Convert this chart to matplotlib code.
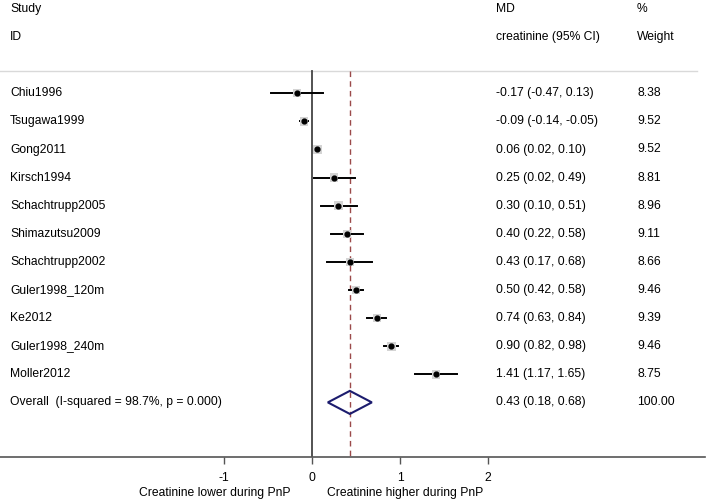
import matplotlib
matplotlib.use("Agg")
import matplotlib.pyplot as plt
from matplotlib.patches import Polygon
import matplotlib.transforms as mtransforms

plt.rcParams['font.family'] = ['Liberation Sans', 'DejaVu Sans']

# study data
studies = ['Chiu1996', 'Tsugawa1999', 'Gong2011', 'Kirsch1994', 'Schachtrupp2005',
           'Shimazutsu2009', 'Schachtrupp2002', 'Guler1998_120m', 'Ke2012',
           'Guler1998_240m', 'Moller2012']
md = [-0.17, -0.09, 0.06, 0.25, 0.30, 0.40, 0.43, 0.50, 0.74, 0.90, 1.41]
lower = [-0.47, -0.14, 0.02, 0.02, 0.10, 0.22, 0.17, 0.42, 0.63, 0.82, 1.17]
upper = [0.13, -0.05, 0.10, 0.49, 0.51, 0.58, 0.68, 0.58, 0.84, 0.98, 1.65]
weights = [8.38, 9.52, 9.52, 8.81, 8.96, 9.11, 8.66, 9.46, 9.39, 9.46, 8.75]

overall_md = 0.43
overall_lo = 0.18
overall_hi = 0.68
overall_label = 'Overall  (I-squared = 98.7%, p = 0.000)'

xticks = [-1, 0, 1, 2]

fig = plt.figure(figsize=(7.10, 5.01), dpi=100)
ax = fig.add_axes([0, 44 / 501, 705 / 710, 457 / 501])

row_h = 28.1
ax.set_xlim(-312 / 88, (705 - 312) / 88)
ax.set_ylim((457 - 9) / row_h, -9 / row_h)

for s in ['top', 'left', 'right']:
    ax.spines[s].set_visible(False)
ax.spines['bottom'].set_color('#555555')
ax.spines['bottom'].set_linewidth(1.2)
ax.set_yticks([])
ax.set_xticks(xticks)
ax.set_xticklabels([str(t) for t in xticks])
ax.tick_params(axis='x', direction='out', length=5, width=1.0, color='#555555',
               labelsize=8.7, pad=6)

trans = mtransforms.blended_transform_factory(fig.transFigure, ax.transData)
fs = 8.7
x_study = 10 / 710
x_md = 496 / 710
x_wt = 637 / 710

# headers
ax.text(x_study, 0, 'Study', transform=trans, fontsize=fs, va='center')
ax.text(x_study, 1, 'ID', transform=trans, fontsize=fs, va='center')
ax.text(x_md, 0, 'MD', transform=trans, fontsize=fs, va='center')
ax.text(x_md, 1, 'creatinine (95% CI)', transform=trans, fontsize=fs, va='center')
ax.text(x_wt, 0, '%', transform=trans, fontsize=fs, va='center')
ax.text(x_wt, 1, 'Weight', transform=trans, fontsize=fs, va='center')

# light separator line under header
ax.axhline((71 - 9) / row_h, xmin=0, xmax=697 / 705, color='#d9d9d9', lw=1.0)

top_row = (71 - 9) / row_h
bottom_row = (457 - 9) / row_h

# zero line and overall dashed line
ax.plot([0, 0], [top_row, bottom_row], color='#444444', lw=1.3, zorder=2)
ax.plot([overall_md, overall_md], [top_row, bottom_row], color='#9b4a4a', lw=1.0,
        ls=(0, (4, 3)), zorder=2)

for i, name in enumerate(studies):
    y = i + 3
    ax.plot([lower[i], upper[i]], [y, y], color='black', lw=1.4, zorder=3)
    ax.scatter([md[i]], [y], marker='s', s=weights[i] * 4.2, color='#d4d4d4',
               edgecolors='none', zorder=3)
    ax.scatter([md[i]], [y], marker='o', s=12, color='black', zorder=4)
    ax.text(x_study, y, name, transform=trans, fontsize=fs, va='center')
    ax.text(x_md, y, f'{md[i]:.2f} ({lower[i]:.2f}, {upper[i]:.2f})',
            transform=trans, fontsize=fs, va='center')
    ax.text(x_wt, y, f'{weights[i]:.2f}', transform=trans, fontsize=fs, va='center')

# overall diamond
oy = len(studies) + 3
dh = 0.41
diamond = Polygon([[overall_lo, oy], [overall_md, oy - dh], [overall_hi, oy],
                   [overall_md, oy + dh]], closed=True, fill=False,
                  edgecolor='#1c1c6e', lw=1.5, zorder=3)
ax.add_patch(diamond)
ax.text(x_study, oy, overall_label, transform=trans, fontsize=fs, va='center')
ax.text(x_md, oy, f'{overall_md:.2f} ({overall_lo:.2f}, {overall_hi:.2f})',
        transform=trans, fontsize=fs, va='center')
ax.text(x_wt, oy, '100.00', transform=trans, fontsize=fs, va='center')

# direction labels
fig.text(215 / 710, 1 - 493 / 501, 'Creatinine lower during PnP', fontsize=fs,
         ha='center', va='center')
fig.text(405 / 710, 1 - 493 / 501, 'Creatinine higher during PnP', fontsize=fs,
         ha='center', va='center')

fig.savefig('out.png', dpi=100)
